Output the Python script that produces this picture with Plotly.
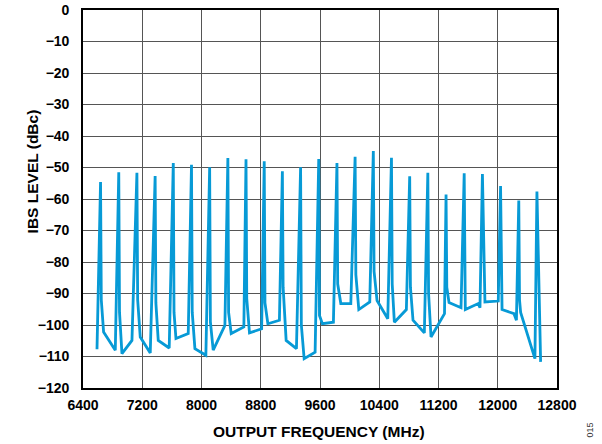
import plotly.graph_objects as go

# Measured IBS trace: spur peaks plus the floor points between them
freq_mhz = [
    6589, 6637, 6647, 6678, 6836,
    6883, 6893, 6926, 7061,
    7128, 7138, 7173, 7308,
    7374, 7384, 7416, 7564,
    7619, 7629, 7655, 7821,
    7865, 7875, 7911, 8059,
    8110, 8120, 8158, 8316,
    8356, 8366, 8401, 8572,
    8601, 8611, 8648, 8812,
    8847, 8857, 8896, 9052,
    9092, 9102, 9143, 9282,
    9338, 9348, 9386, 9534,
    9583, 9593, 9632, 9781,
    9829, 9839, 9881, 10016,
    10074, 10084, 10124, 10272,
    10320, 10330, 10370, 10515,
    10565, 10575, 10604, 10766,
    10811, 10821, 10856, 11009,
    11056, 11066, 11099, 11281,
    11302, 11312, 11342, 11504,
    11547, 11562, 11737, 11760,
    11793, 11827, 12007,
    12038, 12058, 12219, 12252,
    12284, 12294, 12309, 12502,
    12529, 12579,
]
level_dbc = [
    -107.7, -54.6, -92.0, -102.2, -108.0,
    -51.5, -96.0, -109.1, -104.9,
    -51.7, -92.0, -103.8, -108.9,
    -52.7, -93.0, -104.9, -107.3,
    -48.6, -96.0, -104.3, -102.7,
    -49.1, -96.0, -107.5, -109.6,
    -49.9, -99.0, -108.0, -100.1,
    -47.0, -96.0, -102.7, -100.6,
    -47.4, -91.6, -102.5, -101.2,
    -48.0, -93.0, -99.6, -98.5,
    -51.2, -88.0, -104.9, -107.5,
    -49.9, -100.0, -110.7, -108.6,
    -47.3, -97.0, -99.6, -99.1,
    -48.6, -87.0, -93.2, -93.2,
    -46.6, -84.0, -95.1, -92.7,
    -44.8, -83.0, -92.2, -98.0,
    -46.9, -87.0, -99.1, -95.1,
    -52.8, -88.0, -98.5, -102.5,
    -51.7, -90.0, -103.8, -96.4,
    -58.6, -88.0, -92.9, -94.5,
    -51.8, -95.1, -93.2, -94.5,
    -52.1, -92.7, -92.4,
    -55.9, -95.1, -96.4, -98.5,
    -60.5, -92.0, -96.0, -110.7,
    -57.6, -111.7,
]

x_ticks = [6400, 7200, 8000, 8800, 9600, 10400, 11200, 12000, 12800]
y_ticks = [0, -10, -20, -30, -40, -50, -60, -70, -80, -90, -100, -110, -120]

FONT = "Liberation Sans, Arial, Helvetica, sans-serif"
TRACE_BLUE = "#079AD6"
GRID = "#555555"

fig = go.Figure()
fig.add_trace(go.Scatter(
    x=freq_mhz, y=level_dbc, mode="lines",
    line=dict(color=TRACE_BLUE, width=2.8),
    hoverinfo="skip", showlegend=False,
))

axis_common = dict(
    showgrid=True, gridcolor=GRID, gridwidth=1.2,
    showline=True, linecolor="black", linewidth=1.6, mirror=True,
    zeroline=False, automargin=False,
    ticks="outside", ticklen=0, tickcolor="rgba(0,0,0,0)",
    tickfont=dict(family=FONT, size=14, color="black", weight="bold"),
)

fig.update_xaxes(range=[6400, 12800], tickvals=x_ticks,
                 ticktext=[str(v) for v in x_ticks],
                 ticklabelstandoff=3, **axis_common)
fig.update_yaxes(range=[-120, 0], tickvals=y_ticks,
                 ticklabelstandoff=9, **axis_common)

fig.add_annotation(text="IBS LEVEL (dBc)", xref="paper", yref="paper",
                   x=-0.1076, y=0.573, xanchor="center", yanchor="middle",
                   textangle=-90, showarrow=False,
                   font=dict(family=FONT, size=15.5, color="black", weight="bold"))
fig.add_annotation(text="OUTPUT FREQUENCY (MHz)", xref="paper", yref="paper",
                   x=0.498, y=-0.114, xanchor="center", yanchor="middle",
                   showarrow=False,
                   font=dict(family=FONT, size=15.5, color="black", weight="bold"))
fig.add_annotation(text="015", xref="paper", yref="paper",
                   x=1.0696, y=-0.11, xanchor="center", yanchor="middle",
                   textangle=-90, showarrow=False,
                   font=dict(family=FONT, size=9, color="#333333"))

fig.update_layout(
    width=602, height=444,
    margin=dict(l=83, r=45, t=10, b=56),
    paper_bgcolor="white", plot_bgcolor="white",
    font=dict(family=FONT),
)

fig.write_html("out.html")
